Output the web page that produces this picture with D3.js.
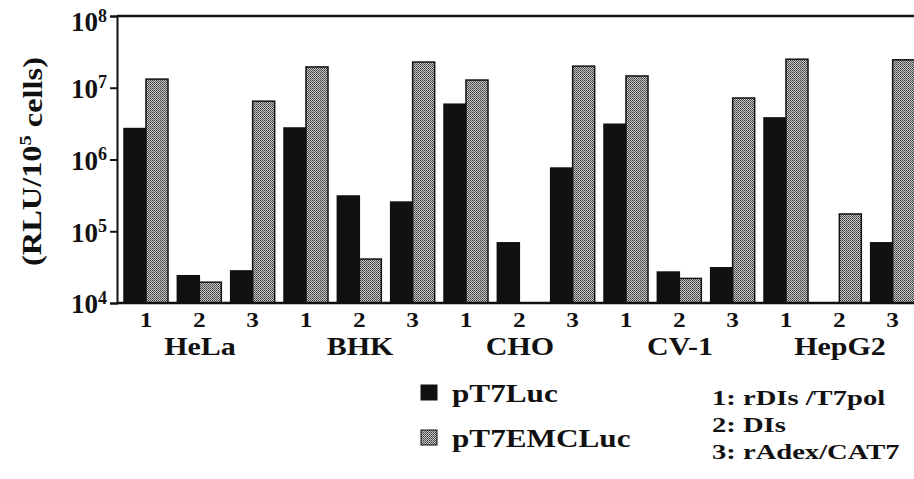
<!DOCTYPE html>
<html>
<head>
<meta charset="utf-8">
<script src="https://cdn.jsdelivr.net/npm/d3@7"></script>
<style>
body { margin: 0; background: #fff; }
</style>
</head>
<body>
<div id="canvas"></div>
<script>
// data
var cellLines = ["HeLa", "BHK", "CHO", "CV-1", "HepG2"];
var conditions = ["1", "2", "3"];
var seriesNames = ["pT7Luc", "pT7EMCLuc"];
// values per cell line, conditions 1..3 (RLU / 10^5 cells), null = no bar
var pT7Luc    = [[2.7e6, 2.4e4, 2.8e4], [2.75e6, 3.1e5, 2.55e5], [5.9e6, 6.9e4, 7.6e5], [3.1e6, 2.7e4, 3.1e4], [3.8e6, null, 6.9e4]];
var pT7EMCLuc = [[1.32e7, 1.95e4, 6.5e6], [1.95e7, 4.1e4, 2.28e7], [1.28e7, null, 2.0e7], [1.46e7, 2.2e4, 7.2e6], [2.5e7, 1.74e5, 2.45e7]];
var yTicks = [1e4, 1e5, 1e6, 1e7, 1e8];
var conditionLegend = ["1: rDIs /T7pol", "2: DIs", "3: rAdex/CAT7"];

var canvasWidth = 914, canvasHeight = 479;
var axisX = 117, plotTop = 16, plotBottom = 303;
var stretch = 1.2;
var fontFamily = "'Liberation Serif', 'Times New Roman', serif";

var svg = d3.select("#canvas").append("svg")
    .attr("width", canvasWidth)
    .attr("height", canvasHeight)
    .attr("viewBox", "0 0 " + canvasWidth + " " + canvasHeight);

function styleText(sel)
{
    sel.style("font-family", fontFamily)
       .style("font-weight", "bold")
       .attr("fill", "#111");
}

// dithered gray fill
var defs = svg.append("defs");
var pat = defs.append("pattern")
    .attr("id", "dither")
    .attr("width", 2).attr("height", 2)
    .attr("patternUnits", "userSpaceOnUse");
pat.append("rect").attr("width", 2).attr("height", 2).attr("fill", "#c8c8c8");
pat.append("rect").attr("x", 0).attr("y", 0).attr("width", 1).attr("height", 1).attr("fill", "#3a3a3a");
pat.append("rect").attr("x", 1).attr("y", 1).attr("width", 1).attr("height", 1).attr("fill", "#5a5a5a");

var seriesFill = {"pT7Luc": "#111", "pT7EMCLuc": "url(#dither)"};

// scales
var x0 = d3.scaleBand().domain(cellLines).range([124, 124 + 160 * cellLines.length]);
var x1 = d3.scaleBand().domain(conditions).range([0, x0.bandwidth()])
    .paddingInner(0.175).paddingOuter(0.0875).align(0);
var x2 = d3.scaleBand().domain(seriesNames).range([0, x1.bandwidth()]);
var y = d3.scaleLog().domain([1e4, 1e8]).range([plotBottom, plotTop]);

// flatten into bar records
var bars = [];
cellLines.forEach(function(c, i) {
    conditions.forEach(function(k, j) {
        bars.push({cell: c, cond: k, series: "pT7Luc", value: pT7Luc[i][j]});
        bars.push({cell: c, cond: k, series: "pT7EMCLuc", value: pT7EMCLuc[i][j]});
    });
});

svg.append("g").selectAll("rect")
    .data(bars.filter(function(d) { return d.value != null; }))
    .enter().append("rect")
    .attr("x", function(d) { return x0(d.cell) + x1(d.cond) + x2(d.series); })
    .attr("y", function(d) { return y(d.value); })
    .attr("width", x2.bandwidth())
    .attr("height", function(d) { return plotBottom - y(d.value); })
    .attr("fill", function(d) { return seriesFill[d.series]; })
    .attr("stroke", "#111")
    .attr("stroke-width", 1.5);

// frame lines
svg.append("line")
    .attr("x1", axisX).attr("x2", canvasWidth)
    .attr("y1", plotTop).attr("y2", plotTop)
    .attr("stroke", "#111").attr("stroke-width", 2.5);
svg.append("line")
    .attr("x1", axisX).attr("x2", canvasWidth)
    .attr("y1", plotBottom).attr("y2", plotBottom)
    .attr("stroke", "#111").attr("stroke-width", 2.5);

// y axis
var yAxis = svg.append("g")
    .attr("transform", "translate(" + axisX + ",0)")
    .call(d3.axisLeft(y).tickValues(yTicks).tickSize(7).tickFormat(""));
yAxis.select(".domain").attr("stroke", "#111").attr("stroke-width", 2);
yAxis.selectAll(".tick line").attr("stroke", "#111").attr("stroke-width", 2);

var yLab = svg.append("g").selectAll("text")
    .data(yTicks)
    .enter().append("text")
    .attr("x", 71)
    .attr("y", function(d) { return y(d) + (d === 1e8 ? 6 : 1); })
    .attr("dy", "0.35em")
    .attr("font-size", 27)
    .call(styleText);
yLab.append("tspan").text("10");
yLab.append("tspan")
    .attr("font-size", 18)
    .attr("dy", "-0.55em")
    .text(function(d) { return Math.round(Math.log10(d)); });

// y title
var yTitle = svg.append("text")
    .attr("transform", "translate(41," + ((plotTop + plotBottom) / 2 + 2) + ") rotate(-90) scale(" + stretch + ",1)")
    .attr("text-anchor", "middle")
    .attr("font-size", 27)
    .call(styleText);
yTitle.append("tspan").text("(RLU/10");
yTitle.append("tspan").attr("font-size", 17).attr("dy", "-0.6em").text("5");
yTitle.append("tspan").attr("dy", "0.4em").text(" cells)");

// condition tick labels
var condLabels = [];
cellLines.forEach(function(c) {
    conditions.forEach(function(k) { condLabels.push({cell: c, cond: k}); });
});
svg.append("g").selectAll("text")
    .data(condLabels)
    .enter().append("text")
    .attr("transform", function(d) {
        return "translate(" + (x0(d.cell) + x1(d.cond) + x1.bandwidth() / 2) + ",327) scale(" + stretch + ",1)";
    })
    .attr("text-anchor", "middle")
    .attr("font-size", 21)
    .call(styleText)
    .text(function(d) { return d.cond; });

// cell line labels
svg.append("g").selectAll("text")
    .data(cellLines)
    .enter().append("text")
    .attr("transform", function(d) {
        return "translate(" + (x0(d) + x0.bandwidth() / 2 - 4) + ",355) scale(" + stretch + ",1)";
    })
    .attr("text-anchor", "middle")
    .attr("font-size", 25)
    .call(styleText)
    .text(function(d) { return d; });

// series legend
var leg = svg.append("g").selectAll("g")
    .data(seriesNames)
    .enter().append("g")
    .attr("transform", function(d, i) { return "translate(421," + (385 + i * 45) + ")"; });
leg.append("rect")
    .attr("width", 16).attr("height", 15)
    .attr("fill", function(d) { return seriesFill[d]; })
    .attr("stroke", "#111")
    .attr("stroke-width", 1);
leg.append("text")
    .attr("transform", "translate(31,17) scale(" + stretch + ",1)")
    .attr("font-size", 26)
    .call(styleText)
    .text(function(d) { return d; });

// condition legend
svg.append("g").selectAll("text")
    .data(conditionLegend)
    .enter().append("text")
    .attr("transform", function(d, i) { return "translate(712," + (405 + i * 27) + ") scale(1.3,1)"; })
    .attr("font-size", 22)
    .call(styleText)
    .text(function(d) { return d; });
</script>
</body>
</html>
